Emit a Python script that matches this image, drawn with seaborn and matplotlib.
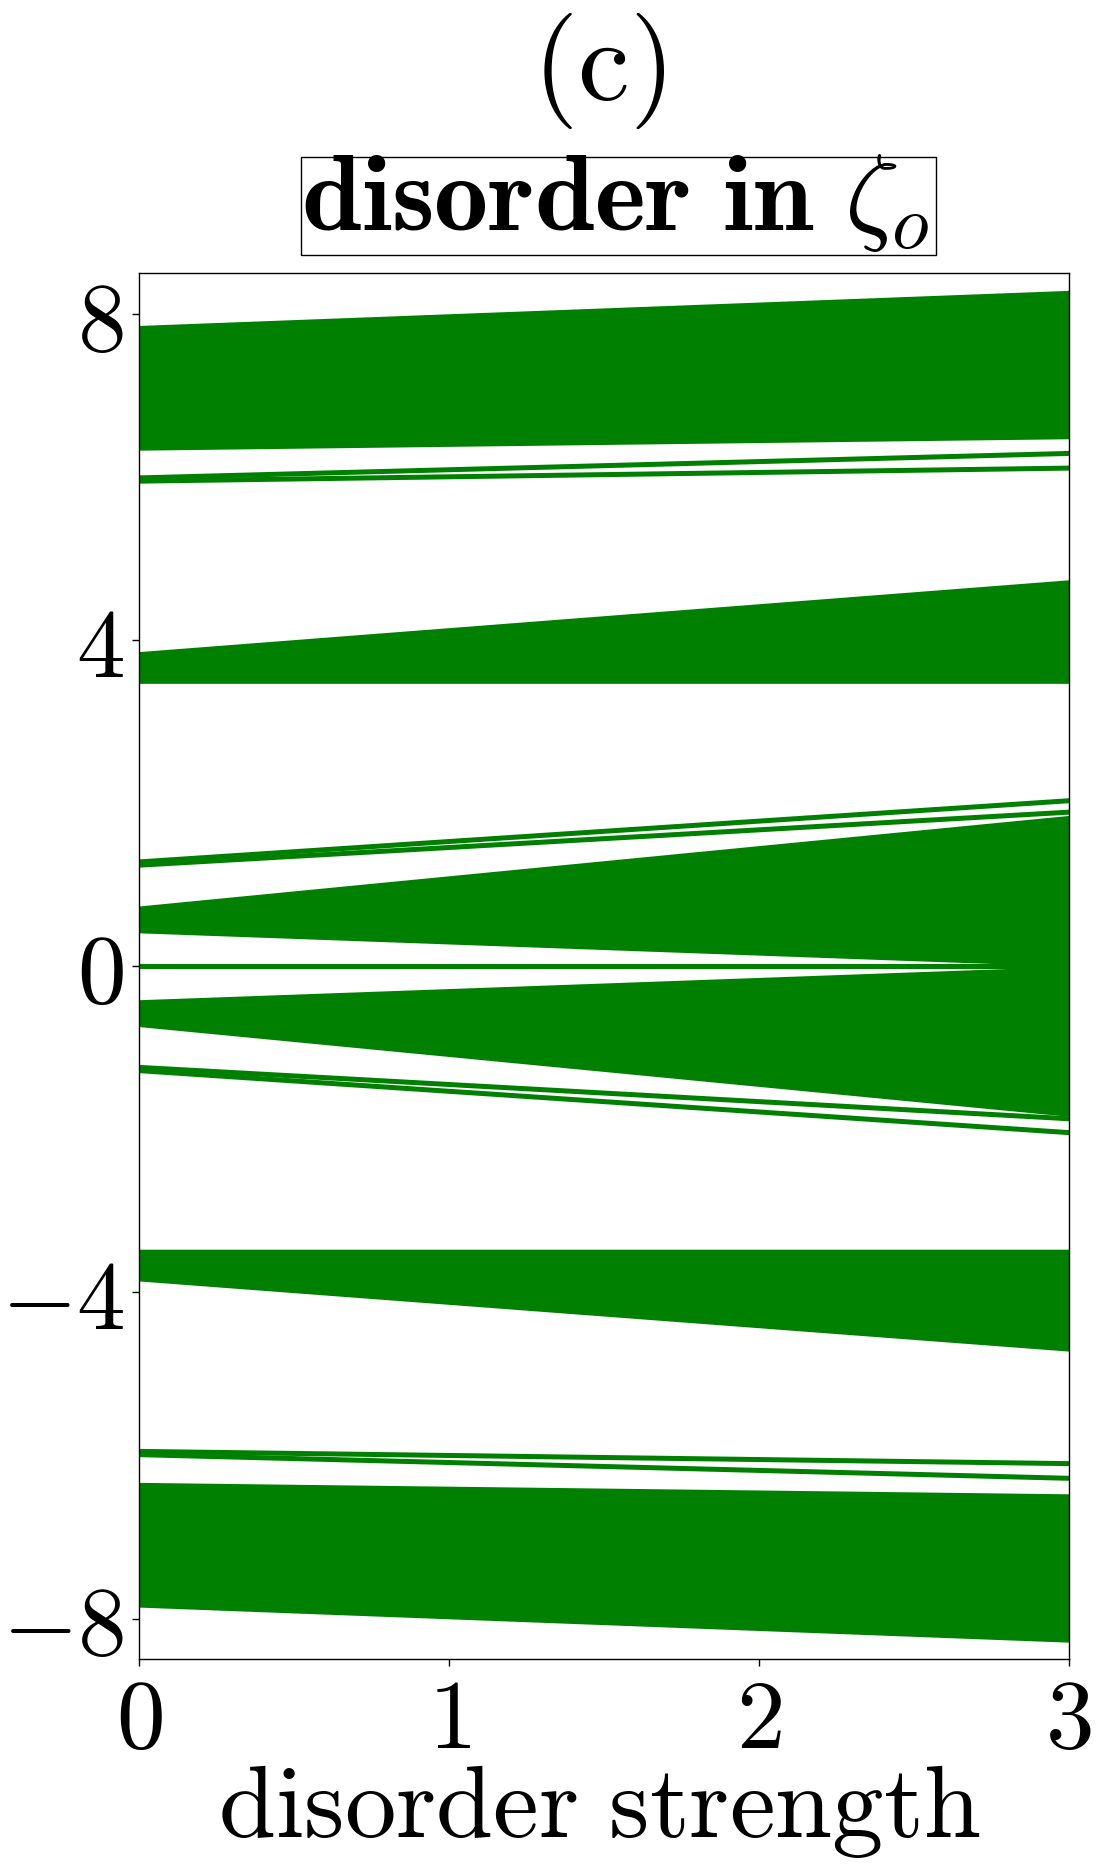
import numpy as np
import pandas as pd
import seaborn as sns
import matplotlib
matplotlib.use("Agg")
import matplotlib.pyplot as plt
from matplotlib.patches import Rectangle

# disorder strength at both ends of the sweep
W = [0.0, 3.0]

# filled bands: (lower edge, upper edge) at W=0 and W=3
band_names = ["top", "upper4", "upper0", "lower0", "lower4", "bottom"]
band_lo = [[6.33, 6.47], [3.47, 3.47], [0.41, 0.0], [-0.74, -1.84], [-3.86, -4.72], [-7.86, -8.29]]
band_hi = [[7.86, 8.29], [3.86, 4.74], [0.74, 1.85], [-0.41, 0.0], [-3.47, -3.47], [-6.33, -6.47]]

# isolated levels (in-gap states) at W=0 and W=3
level_names = ["a1", "a2", "b1", "b2", "zero", "c1", "c2", "d1", "d2"]
level_E = [[5.99, 6.29], [5.95, 6.11],
           [1.28, 2.03], [1.24, 1.89],
           [0.0, 0.0],
           [-1.24, -1.87], [-1.28, -2.04],
           [-5.95, -6.10], [-5.99, -6.28]]

yticks = [-8, -4, 0, 4, 8]
xticks = [0, 1, 2, 3]

sns.set_theme(style="ticks")
plt.rcParams["mathtext.fontset"] = "cm"
plt.rcParams["font.family"] = ["DejaVu Sans"]
for k in ["text.color", "axes.labelcolor", "xtick.color", "ytick.color", "axes.edgecolor"]:
    plt.rcParams[k] = "black"

fig = plt.figure(figsize=(11.01, 18.69), dpi=100)
ax = fig.add_axes([0.1265, 0.1122, 0.844, 0.7416])

for lo, hi in zip(band_lo, band_hi):
    ax.fill_between(W, lo, hi, color="green", lw=0)

rows = []
for name, e in zip(level_names, level_E):
    for w, v in zip(W, e):
        rows.append({"W": w, "E": v, "level": name})
lines = pd.DataFrame(rows)
sns.lineplot(data=lines, x="W", y="E", units="level", estimator=None,
             color="green", lw=3.6, ax=ax, legend=False)

ax.set_xlim(0, 3)
ax.set_ylim(-8.5, 8.5)
ax.set_xticks(xticks)
ax.set_xticklabels([r"$%d$" % t for t in xticks])
ax.set_yticks(yticks)
ax.set_yticklabels([r"$%d$" % t for t in yticks])
ax.tick_params(labelsize=70, length=5, width=1, pad=6)
ax.set_xlabel(r"$\mathrm{disorder\ strength}$", fontsize=74)
ax.xaxis.label.set_va("baseline")
ax.xaxis.set_label_coords(0.4945, -0.1282)
ax.set_ylabel("")
for s in ax.spines.values():
    s.set_linewidth(1.0)

ax.text(0.494, 1.1456, r"$\mathrm{(c)}$", transform=ax.transAxes,
        ha="center", va="center", fontsize=84)
ax.add_patch(Rectangle((0.1735, 1.0132), 0.6839, 0.0709, transform=ax.transAxes,
                       fc="white", ec="black", lw=1, clip_on=False))
ax.text(0.5125, 1.0312, r"$\mathbf{disorder\ in}\ \zeta_o$", transform=ax.transAxes,
        ha="center", va="baseline", fontsize=78)

fig.savefig("out.png", dpi=100)
